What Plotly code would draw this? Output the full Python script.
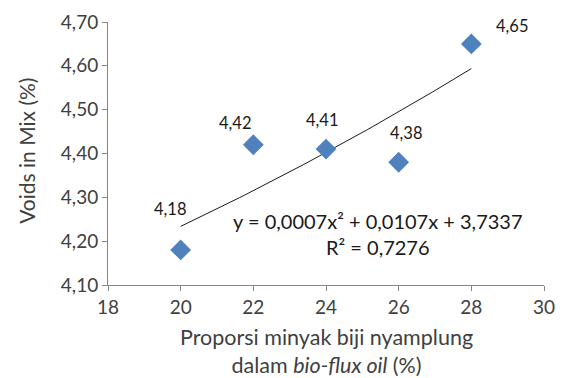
import numpy as np
import plotly.graph_objects as go

# Bio-flux oil composition vs. voids in mix
proporsi = [20, 22, 24, 26, 28]
voids = [4.18, 4.42, 4.41, 4.38, 4.65]
x_ticks = [18, 20, 22, 24, 26, 28, 30]
y_ticks = [4.10, 4.20, 4.30, 4.40, 4.50, 4.60, 4.70]
equation_text = "y = 0,0007x² + 0,0107x + 3,7337<br>R² = 0,7276"
x_title = "Proporsi minyak biji nyamplung<br>dalam <i>bio-flux oil</i> (%)"
y_title = "Voids in Mix (%)"

FONT = "Lato"
AXIS_GREY = "#868686"
TEXT = "#404040"

# second-order polynomial trend line fitted to the measurements
coef = np.polyfit(proporsi, voids, 2)
xs = np.linspace(min(proporsi), max(proporsi), 60)
ys = np.polyval(coef, xs)

fig = go.Figure()
fig.add_trace(go.Scatter(x=xs, y=ys, mode="lines",
                         line=dict(color="#1a1a1a", width=1), hoverinfo="skip"))
fig.add_trace(go.Scatter(x=proporsi, y=voids, mode="markers",
                         marker=dict(symbol="diamond", size=16, color="#4F81BD",
                                     line=dict(width=0))))

# value labels next to each point
offsets = [(-11, 41), (-18, 22), (-4, 29), (7, 29), (41, 18)]
for xv, yv, (dx, dy) in zip(proporsi, voids, offsets):
    fig.add_annotation(x=xv, y=yv, text=f"{yv:.2f}".replace(".", ","),
                       showarrow=False, xshift=dx, yshift=dy,
                       font=dict(family=FONT, size=16.5, color="#1a1a1a"))

fig.add_annotation(x=0.619, y=4.217, xref="paper", yref="y", text=equation_text,
                   showarrow=False, align="center", xanchor="center", yanchor="middle",
                   font=dict(family=FONT, size=20, color="#1a1a1a"))

# axis titles
fig.add_annotation(x=0.5, y=-0.252, xref="paper", yref="paper", text=x_title,
                   showarrow=False, align="center", xanchor="center", yanchor="middle",
                   font=dict(family=FONT, size=21.5, color=TEXT))
fig.add_annotation(x=-0.186, y=0.51, xref="paper", yref="paper", text=y_title,
                   showarrow=False, textangle=-90, xanchor="center", yanchor="middle",
                   font=dict(family=FONT, size=21, color=TEXT))

fig.update_layout(
    width=567, height=378,
    margin=dict(l=108, r=23, t=22, b=93),
    paper_bgcolor="white", plot_bgcolor="white",
    showlegend=False,
    font=dict(family=FONT, size=19, color=TEXT),
    xaxis=dict(range=[18, 30], tickvals=x_ticks, ticktext=[str(v) for v in x_ticks],
               showgrid=False, zeroline=False, showline=True, linecolor=AXIS_GREY,
               ticks="outside", ticklen=5, tickcolor=AXIS_GREY, automargin=False,
               tickfont=dict(family=FONT, size=19, color=TEXT)),
    yaxis=dict(range=[4.10, 4.70], tickvals=y_ticks,
               ticktext=[f"{v:.2f}".replace(".", ",") for v in y_ticks],
               showgrid=False, zeroline=False, showline=True, linecolor=AXIS_GREY,
               ticks="outside", ticklen=5, tickcolor=AXIS_GREY, automargin=False,
               tickfont=dict(family=FONT, size=19, color=TEXT)),
)

fig.write_html("out.html")
